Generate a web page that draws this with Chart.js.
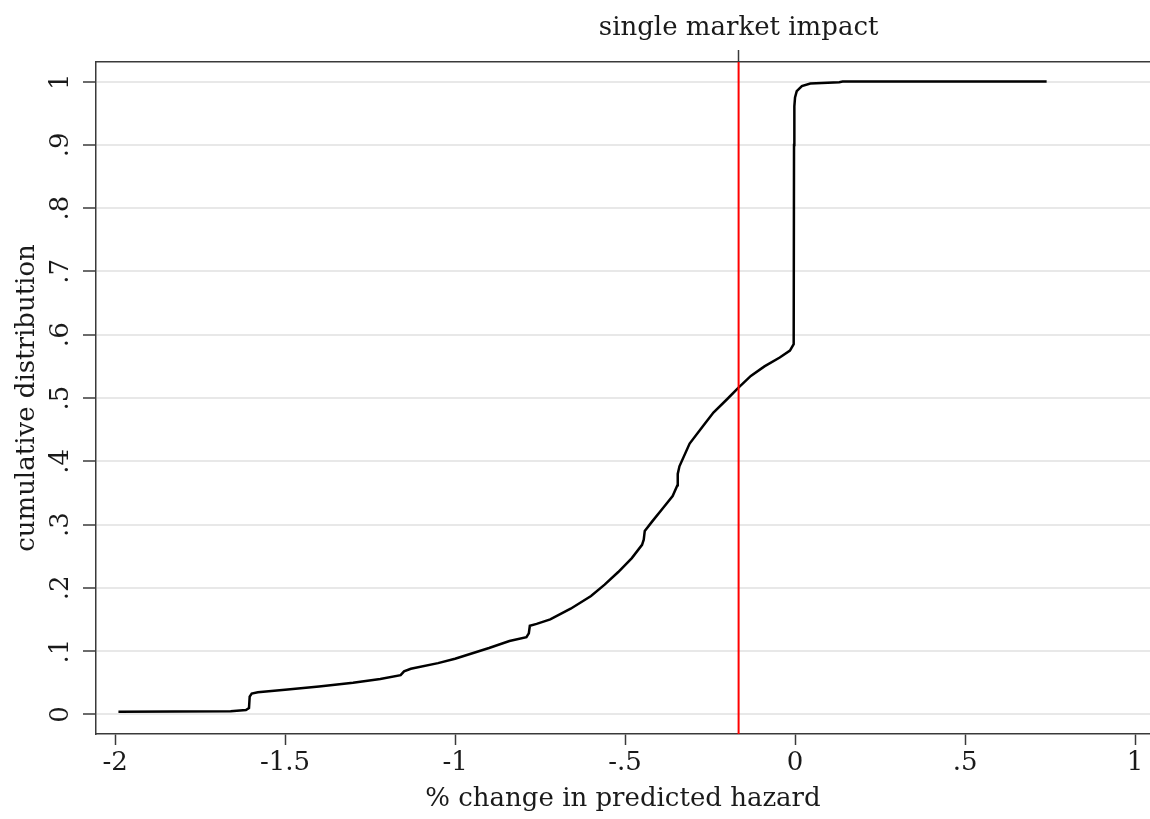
<!DOCTYPE html>
<html lang="en">
<head>
<meta charset="utf-8">
<script src="https://cdn.jsdelivr.net/npm/chart.js@4.4.1/dist/chart.umd.min.js"></script>
<style>
  html, body { margin: 0; padding: 0; background: #fff; }
  canvas { display: block; }
</style>
</head>
<body>
<canvas id="chart" width="1150" height="819"></canvas>
<script>
// cumulative distribution of the % change in predicted hazard
const cdfX = [-1.99, -1.66, -1.615, -1.606, -1.604, -1.598, -1.58, -1.50, -1.40, -1.30,
              -1.22, -1.16, -1.15, -1.13, -1.05, -1.00, -0.90, -0.84, -0.79, -0.783,
              -0.78, -0.76, -0.72, -0.66, -0.60, -0.56, -0.52, -0.48, -0.45, -0.445,
              -0.442, -0.42, -0.39, -0.36, -0.346, -0.345, -0.34, -0.31, -0.27, -0.24,
              -0.20, -0.167, -0.13, -0.09, -0.045, -0.015, -0.004, -0.003, -0.002, 0.0,
              0.005, 0.02, 0.045, 0.13, 0.14, 0.74];
const cdfY = [0.004, 0.005, 0.007, 0.010, 0.028, 0.033, 0.035, 0.039, 0.044, 0.050,
              0.056, 0.062, 0.068, 0.072, 0.081, 0.088, 0.105, 0.116, 0.122, 0.128,
              0.140, 0.143, 0.150, 0.167, 0.187, 0.205, 0.225, 0.247, 0.268, 0.276,
              0.290, 0.305, 0.325, 0.345, 0.362, 0.380, 0.392, 0.428, 0.456, 0.477,
              0.498, 0.516, 0.535, 0.550, 0.564, 0.575, 0.585, 0.900, 0.961, 0.975,
              0.985, 0.993, 0.997, 0.999, 1.0, 1.0];

const impactX = -0.166;
const impactLabel = 'single market impact';

const xTicks = [-2, -1.5, -1, -0.5, 0, 0.5, 1];
const xTickLabels = ['-2', '-1.5', '-1', '-.5', '0', '.5', '1'];
const yTicks = [0, 0.1, 0.2, 0.3, 0.4, 0.5, 0.6, 0.7, 0.8, 0.9, 1];
const yTickLabels = ['0', '.1', '.2', '.3', '.4', '.5', '.6', '.7', '.8', '.9', '1'];

const xRange = [-2.056, 1.044];
const yRange = [-0.031, 1.031];

const xTitle = '% change in predicted hazard';
const yTitle = 'cumulative distribution';

Chart.defaults.font.family = "'DejaVu Serif', serif";
Chart.defaults.font.size = 26;
Chart.defaults.color = '#1a1a1a';

const axisColor = '#3a3a3a';

new Chart(document.getElementById('chart'), {
  type: 'scatter',
  data: {
    datasets: [
      {
        data: [{ x: impactX, y: yRange[0] }, { x: impactX, y: yRange[1] }],
        showLine: true,
        borderColor: '#ff0000',
        borderWidth: 2,
        pointRadius: 0,
        order: 0
      },
      {
        data: cdfX.map((x, i) => ({ x: x, y: cdfY[i] })),
        showLine: true,
        borderColor: '#000000',
        borderWidth: 2.5,
        pointRadius: 0,
        tension: 0,
        order: 1
      }
    ]
  },
  options: {
    responsive: false,
    animation: false,
    layout: { padding: 0 },
    plugins: {
      legend: { display: false },
      tooltip: { enabled: false }
    },
    scales: {
      x: {
        type: 'linear',
        position: 'bottom',
        min: xRange[0],
        max: xRange[1],
        afterBuildTicks: s => { s.ticks = xTicks.map(v => ({ value: v })); },
        afterFit: s => { s.height = 85; },
        ticks: {
          callback: (v, i) => xTickLabels[i],
          padding: 3,
          maxRotation: 0,
          autoSkip: false
        },
        grid: { drawOnChartArea: false, tickLength: 11, tickColor: axisColor, tickWidth: 1.5 },
        border: { color: axisColor, width: 1.5 },
        title: { display: true, text: xTitle, padding: { top: 0, bottom: 4 } }
      },
      x2: {
        type: 'linear',
        position: 'top',
        min: xRange[0],
        max: xRange[1],
        afterBuildTicks: s => { s.ticks = [{ value: impactX }]; },
        afterFit: s => { s.height = 62; },
        ticks: {
          callback: () => impactLabel,
          padding: 6,
          maxRotation: 0,
          autoSkip: false
        },
        grid: { drawOnChartArea: false, tickLength: 12, tickColor: axisColor, tickWidth: 1.5 },
        border: { color: axisColor, width: 1.5 }
      },
      y: {
        type: 'linear',
        min: yRange[0],
        max: yRange[1],
        afterBuildTicks: s => { s.ticks = yTicks.map(v => ({ value: v })); },
        afterFit: s => { s.width = 96; },
        ticks: {
          callback: (v, i) => yTickLabels[i],
          minRotation: 90,
          maxRotation: 90,
          crossAlign: 'center',
          padding: 9,
          autoSkip: false
        },
        grid: { color: '#e8e8e8', lineWidth: 2, tickColor: axisColor, tickLength: 13, tickWidth: 1.5 },
        border: { color: axisColor, width: 1.5 },
        title: { display: true, text: yTitle, padding: { top: 12, bottom: 0 } }
      }
    }
  }
});
</script>
</body>
</html>
